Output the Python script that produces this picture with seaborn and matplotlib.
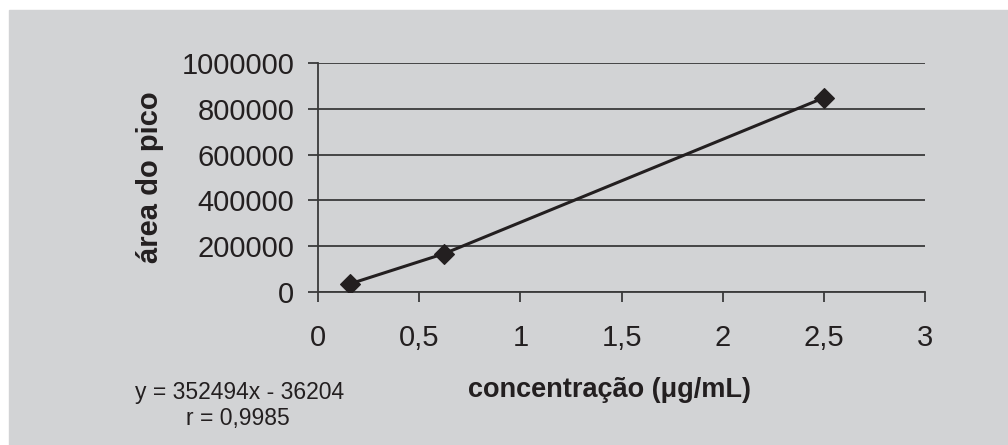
import matplotlib
matplotlib.use("Agg")
import matplotlib.pyplot as plt
import matplotlib.ticker as mticker
import seaborn as sns
import pandas as pd

# Curva de calibração
concentracao = [0.156, 0.625, 2.5]
area_pico = [35000, 168000, 848000]
x_ticks = [0, 0.5, 1, 1.5, 2, 2.5, 3]
y_ticks = [0, 200000, 400000, 600000, 800000, 1000000]
equacao = "y = 352494x - 36204"
coef_r = "r = 0,9985"

BG = "#d2d3d5"
INK = "#231f20"

sns.set_style("white", {"axes.facecolor": BG, "figure.facecolor": "white"})
plt.rcParams["font.family"] = ["Liberation Sans", "DejaVu Sans"]

fig = plt.figure(figsize=(10.08, 4.45), dpi=100)
# fundo cinza com margem branca em cima e à esquerda
fig.patches.append(plt.Rectangle((9 / 1008, 0), 1, 1 - 10 / 445,
                                 transform=fig.transFigure, color=BG, zorder=-10))
ax = fig.add_axes([318 / 1008, 1 - 292 / 445, (925 - 318) / 1008, (292 - 63) / 445])
ax.set_facecolor(BG)

df = pd.DataFrame({"x": concentracao, "y": area_pico})
sns.lineplot(data=df, x="x", y="y", ax=ax, color=INK, linewidth=2.2,
             marker="D", markersize=10.5, markeredgecolor=INK, markeredgewidth=0.8,
             zorder=5)

ax.set_xlim(0, 3)
ax.set_ylim(0, 1000000)
ax.set_xticks(x_ticks)
ax.set_yticks(y_ticks)
ax.xaxis.set_major_formatter(mticker.FuncFormatter(lambda v, _: f"{v:g}".replace(".", ",")))
ax.yaxis.set_major_formatter(mticker.FuncFormatter(lambda v, _: f"{v:.0f}"))
ax.grid(axis="y", color="#3a3a3a", linewidth=1.3)
ax.grid(axis="x", visible=False)

for s in ["top", "right"]:
    ax.spines[s].set_visible(False)
for s in ["left", "bottom"]:
    ax.spines[s].set_color("#3a3a3a")
    ax.spines[s].set_linewidth(1.3)

ax.tick_params(axis="y", direction="out", length=7, width=1.3, color="#3a3a3a",
               pad=10, labelsize=21, labelcolor=INK, left=True)
ax.tick_params(axis="x", direction="out", length=7, width=1.3, color="#3a3a3a",
               pad=16, labelsize=21, labelcolor=INK, bottom=True)

ax.set_xlabel("concentração (μg/mL)", fontsize=19.5, fontweight="bold", color=INK, va="center")
ax.xaxis.set_label_coords(0.480, -0.428)
ax.set_ylabel("área do pico", fontsize=21, fontweight="bold", color=INK, va="center")
ax.yaxis.set_label_coords(-0.277, 0.50)

fig.text(240 / 1008, 1 - 392 / 445, equacao, fontsize=16.5, color=INK, ha="center", va="center")
fig.text(238 / 1008, 1 - 418 / 445, coef_r, fontsize=16.5, color=INK, ha="center", va="center")

fig.savefig("out.png", dpi=100)
